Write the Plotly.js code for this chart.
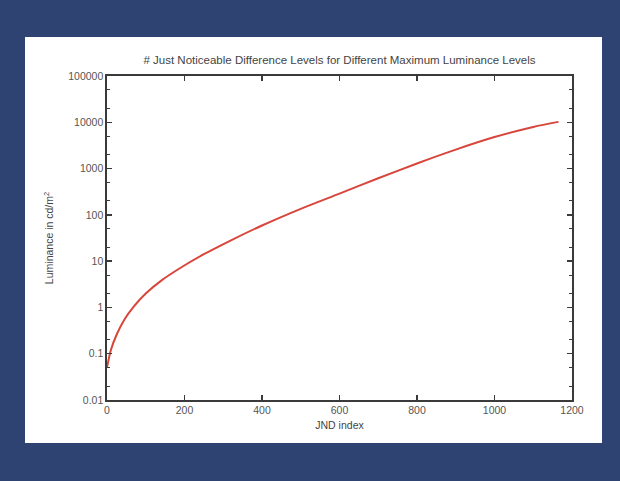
<!DOCTYPE html>
<html>
<head>
<meta charset="utf-8">
<script src="https://cdn.plot.ly/plotly-3.0.1.min.js"></script>
<style>html,body{margin:0;padding:0;background:#2f4373;}#chart{width:620px;height:481px;}</style>
</head>
<body>
<div id="chart"></div>
<script>
// JND index (x) and luminance in cd/m^2 (y)
const jndIndex  = [0, 10, 25, 45, 70, 100, 140, 190, 250, 320, 400, 500, 600, 700, 800, 900, 1000, 1100, 1165];
const luminance = [0.050, 0.12, 0.26, 0.55, 1.07, 2.0, 3.8, 7.2, 14.1, 28.2, 58.9, 135, 288, 617, 1290, 2570, 4790, 7940, 10200];
const yTickVals = [0.01, 0.1, 1, 10, 100, 1000, 10000, 100000];
const yTickText = ['0.01', '0.1', '1', '10', '100', '1000', '10000', '100000'];

const trace = {
  x: jndIndex, y: luminance, type: 'scatter', mode: 'lines',
  line: {color: '#d8453b', width: 2, shape: 'spline', smoothing: 0.8},
  hoverinfo: 'none', showlegend: false
};

const fontFam = '"Liberation Sans", Arial, sans-serif';
const layout = {
  width: 620, height: 481,
  paper_bgcolor: '#2f4373', plot_bgcolor: '#ffffff',
  margin: {l: 107, r: 48, t: 76, b: 81},
  font: {family: fontFam, size: 10, color: '#444'},
  title: {text: '# Just Noticeable Difference Levels for Different Maximum Luminance Levels',
          font: {family: fontFam, size: 11.5, color: '#444'},
          x: 0.5, xref: 'paper', y: 1 - 60/481, yanchor: 'middle'},
  xaxis: {
    range: [0, 1200], dtick: 200, tick0: 0,
    showgrid: false, zeroline: false,
    showline: true, linecolor: '#3a3a3a', linewidth: 1.6, mirror: 'ticks',
    ticks: 'inside', ticklen: 5, tickwidth: 1.5, tickcolor: '#3a3a3a',
    tickfont: {family: fontFam, size: 10.5, color: '#555'},
    title: {text: 'JND index', font: {family: fontFam, size: 10.5, color: '#444'}, standoff: 6}
  },
  yaxis: {
    type: 'log', range: [-2, 5],
    tickvals: yTickVals, ticktext: yTickText,
    showgrid: false, zeroline: false,
    showline: true, linecolor: '#3a3a3a', linewidth: 1.6, mirror: 'ticks',
    ticks: 'inside', ticklen: 5, tickwidth: 1.5, tickcolor: '#3a3a3a',
    minor: {ticks: 'inside', ticklen: 3, tickwidth: 1, tickcolor: '#3a3a3a', showgrid: false},
    tickfont: {family: fontFam, size: 10.5, color: '#555'},
    title: {text: 'Luminance in cd/m<sup>2</sup>', font: {family: fontFam, size: 10.5, color: '#444'}, standoff: 12}
  },
  shapes: [{
    type: 'rect', xref: 'paper', yref: 'paper', layer: 'below',
    x0: (25 - 107) / 465, x1: (602 - 107) / 465,
    y0: (400 - 443) / 324, y1: (400 - 37) / 324,
    fillcolor: '#ffffff', line: {width: 0}
  }]
};

Plotly.newPlot('chart', [trace], layout, {displayModeBar: false, staticPlot: true});
</script>
</body>
</html>
